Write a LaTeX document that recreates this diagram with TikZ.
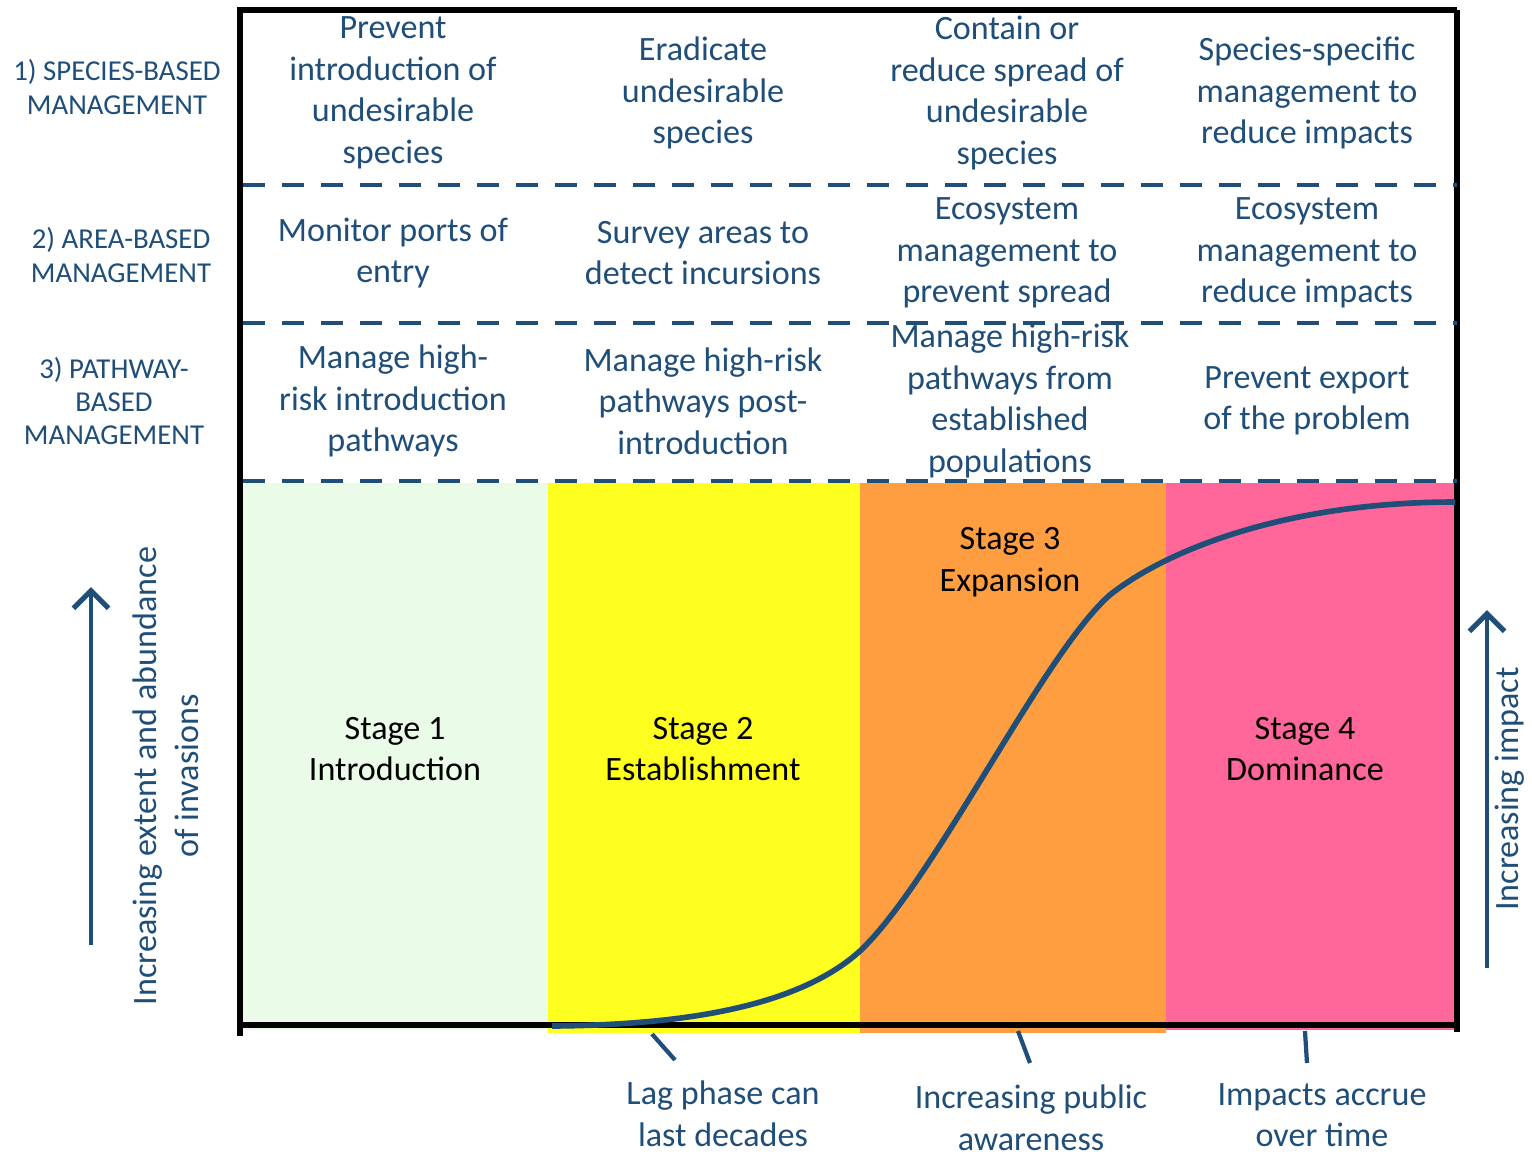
\documentclass[tikz,border=0pt]{standalone}
\usepackage{fontspec}
\setmainfont{Carlito}
\usetikzlibrary{arrows.meta}
\definecolor{navy}{HTML}{1F4E79}
\definecolor{stageone}{HTML}{EAFCE8}
\definecolor{stagetwo}{HTML}{FFFF1F}
\definecolor{stagethree}{HTML}{FF9E40}
\definecolor{stagefour}{HTML}{FF6699}
\tikzset{
  celltext/.style={align=center, text=navy, inner sep=0pt, font=\fontsize{9.7}{11.8}\selectfont},
  rowlabel/.style={align=center, text=navy, inner sep=0pt, font=\fontsize{8.2}{9.5}\selectfont},
  stagetext/.style={align=center, inner sep=0pt, font=\fontsize{9.7}{11.8}\selectfont},
  rowline/.style={navy, line width=1.2pt, dash pattern=on 0.22cm off 0.17cm},
  frameline/.style={line width=1.6pt},
  upword/.style={navy, line width=1.4pt, -{Straight Barb[length=5pt,width=10pt,line width=1.5pt]}},
  tick/.style={navy, line width=1.2pt}
}

\begin{document}
\begin{tikzpicture}[x=0.01cm,y=-0.01cm]
    \useasboundingbox (0,0) rectangle (1532,1156);

    % stage bands
    \fill[stageone] (243,483) rectangle (548,1030);
    \fill[stagetwo] (548,483) rectangle (860,1033);
    \fill[stagethree] (860,483) rectangle (1166,1033);
    \fill[stagefour] (1166,483) rectangle (1460,1030);

    % frame and row separators
    \draw[frameline] (237,10) -- (1457,10);
    \draw[frameline] (240,10) -- (240,1036);
    \draw[frameline] (1457,10) -- (1457,1032);
    \draw[frameline] (240,1025) -- (1457,1025);
    \foreach \y in {185,323,481}{
        \draw[rowline] (243,\y) -- (1457,\y);
    }

    % row labels
    \node[rowlabel] (lab1) at (117,87) {1) SPECIES-BASED\\MANAGEMENT};
    \node[rowlabel] (lab2) at (121,255) {2) AREA-BASED\\MANAGEMENT};
    \node[rowlabel] (lab3) at (114,401) {3) PATHWAY-\\BASED\\MANAGEMENT};

    % management actions
    \foreach \x/\n/\t in {393/1/{Prevent\\introduction of\\undesirable\\species},
                          703/2/{Eradicate\\undesirable\\species},
                          1007/3/{Contain or\\reduce spread of\\undesirable\\species},
                          1307/4/{Species-specific\\management to\\reduce impacts}}{
        \node[celltext] (sp\n) at (\x,93) {\t};
    }
    \foreach \x/\n/\t in {393/1/{Monitor ports of\\entry},
                          703/2/{Survey areas to\\detect incursions},
                          1007/3/{Ecosystem\\management to\\prevent spread},
                          1307/4/{Ecosystem\\management to\\reduce impacts}}{
        \node[celltext] (ar\n) at (\x,253) {\t};
    }
    \foreach \x/\n/\t in {393/1/{Manage high-\\risk introduction\\pathways},
                          703/2/{Manage high-risk\\pathways post-\\introduction},
                          1010/3/{Manage high-risk\\pathways from\\established\\populations},
                          1307/4/{Prevent export\\of the problem}}{
        \node[celltext] (pw\n) at (\x,401) {\t};
    }

    % stages
    \node[stagetext] (st1) at (395,749) {Stage 1\\Introduction};
    \node[stagetext] (st2) at (703,749) {Stage 2\\Establishment};
    \node[stagetext] (st3) at (1010,562) {Stage 3\\Expansion};
    \node[stagetext] (st4) at (1305,749) {Stage 4\\Dominance};

    % invasion curve
    \draw[navy, line width=1.6pt] (552,1026) .. controls (690,1025) and (800,1005) .. (860,951)
        .. controls (935,880) and (1045,650) .. (1111,594)
        .. controls (1170,548) and (1290,502) .. (1455,502);

    % axes
    \coordinate (lbot) at (91,945);
    \coordinate (ltop) at (91,587);
    \draw[upword] (lbot) -- (ltop);
    \node[celltext, rotate=90] (lefttext) at (166,776) {Increasing extent and abundance\\of invasions};
    \coordinate (rbot) at (1487,968);
    \coordinate (rtop) at (1487,610);
    \draw[upword] (rbot) -- (rtop);
    \node[celltext, rotate=90] (righttext) at (1510,789) {Increasing impact};

    % notes below the axis
    \node[celltext] (lag) at (723,1114) {Lag phase can\\last decades};
    \node[celltext] (public) at (1031,1118) {Increasing public\\awareness};
    \node[celltext] (impacts) at (1322,1115) {Impacts accrue\\over time};
    \coordinate (t1a) at (652,1034); \coordinate (t1b) at (675,1060);
    \coordinate (t2a) at (1018,1031); \coordinate (t2b) at (1030,1063);
    \coordinate (t3a) at (1305,1031); \coordinate (t3b) at (1307,1063);
    \draw[tick] (t1a) -- (t1b);
    \draw[tick] (t2a) -- (t2b);
    \draw[tick] (t3a) -- (t3b);
\end{tikzpicture}
\end{document}
